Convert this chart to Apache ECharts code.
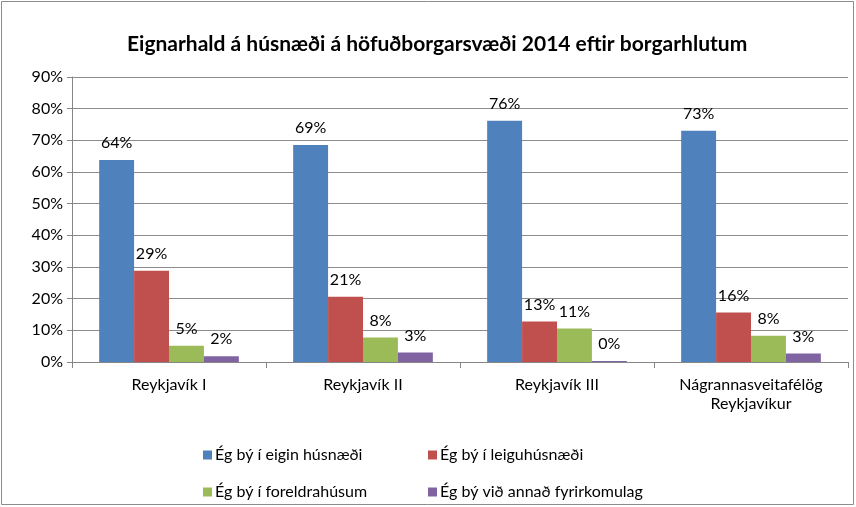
<!DOCTYPE html>
<html>
<head>
<meta charset="utf-8">
<style>
  html, body { margin: 0; padding: 0; background: #fff; }
  #chart { width: 856px; height: 507px; }
</style>
<script src="https://cdn.jsdelivr.net/npm/echarts@6/dist/echarts.min.js"></script>
</head>
<body>
<div id="chart"></div>
<script>
// Categories (city areas) and shares in percent for each housing situation
const categories = ['Reykjavík I', 'Reykjavík II', 'Reykjavík III', 'Nágrannasveitafélög\nReykjavíkur'];
const seriesNames = ['Ég bý í eigin húsnæði', 'Ég bý í leiguhúsnæði', 'Ég bý í foreldrahúsum', 'Ég bý við annað fyrirkomulag'];
const ownHome = [63.8, 68.5, 76.2, 73.0];
const renting = [28.8, 20.6, 12.8, 15.6];
const withParents = [5.1, 7.7, 10.6, 8.3];
const otherArrangement = [1.8, 3.0, 0.3, 2.7];
const yTicks = [0, 10, 20, 30, 40, 50, 60, 70, 80, 90];

const colors = ['#4F81BD', '#C0504D', '#9BBB59', '#8064A2'];
const values = [ownHome, renting, withParents, otherArrangement];
const fontFamily = 'Lato, "Open Sans", sans-serif';

const chart = echarts.init(document.getElementById('chart'));

// Two-column legend underneath the plot
const legendPos = [
  { left: 198, top: 442 },
  { left: 423, top: 442 },
  { left: 198, top: 479 },
  { left: 423, top: 479 }
];

chart.setOption({
  animation: false,
  color: colors,
  title: {
    text: 'Eignarhald á húsnæði á höfuðborgarsvæði 2014 eftir borgarhlutum',
    left: 122,
    top: 29,
    textStyle: { fontFamily, fontSize: 21, fontWeight: 'bold', color: '#000' }
  },
  graphic: [{
    type: 'rect',
    shape: { x: 1.5, y: 1.5, width: 852, height: 503 },
    style: { fill: 'none', stroke: '#8c8c8c', lineWidth: 1 },
    silent: true
  }],
  legend: seriesNames.map((name, i) => ({
    data: [name],
    left: legendPos[i].left,
    top: legendPos[i].top,
    icon: 'rect',
    itemWidth: 9,
    itemHeight: 9,
    itemGap: 4,
    textStyle: { fontFamily, fontSize: 16, color: '#000', padding: [0, 0, 0, -2] }
  })),
  grid: { left: 72, right: 8, top: 77, bottom: 145, containLabel: false },
  xAxis: {
    type: 'category',
    data: categories,
    axisLine: { lineStyle: { color: '#868686' } },
    axisTick: { show: true, alignWithLabel: false, length: 6, lineStyle: { color: '#868686' } },
    axisLabel: { fontFamily, fontSize: 16, color: '#000', margin: 13, lineHeight: 19 }
  },
  yAxis: {
    type: 'value',
    min: 0,
    max: 90,
    interval: 10,
    axisLine: { show: true, lineStyle: { color: '#868686' } },
    axisTick: { show: true, length: 5, lineStyle: { color: '#868686' } },
    splitLine: { lineStyle: { color: '#8c8c8c' } },
    axisLabel: {
      fontFamily, fontSize: 16, color: '#000', margin: 9,
      formatter: v => (yTicks.indexOf(v) >= 0 ? v + '%' : '')
    }
  },
  series: values.map((data, i) => ({
    name: seriesNames[i],
    type: 'bar',
    data,
    barGap: '0%',
    barCategoryGap: '28%',
    itemStyle: { color: colors[i] },
    label: {
      show: true,
      position: 'top',
      distance: 9,
      fontFamily, fontSize: 16, color: '#000',
      formatter: p => Math.round(p.value) + '%'
    }
  }))
});
</script>
</body>
</html>
